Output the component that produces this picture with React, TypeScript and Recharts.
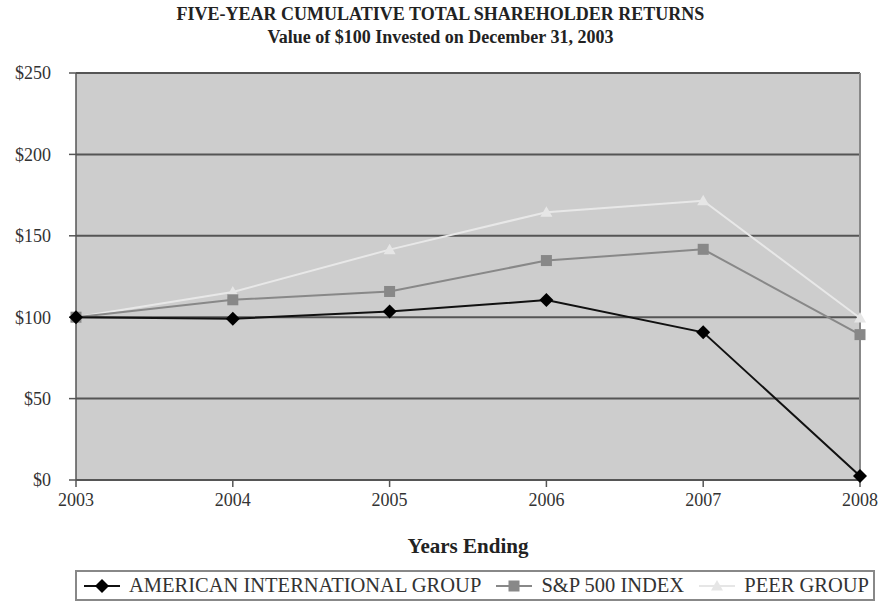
import React from "react";
import {
  LineChart,
  Line,
  XAxis,
  YAxis,
  CartesianGrid,
  ReferenceLine,
} from "recharts";

const years = ["2003", "2004", "2005", "2006", "2007", "2008"];
const aig = [100, 99, 103.5, 110.5, 90.7, 2.5];
const sp500 = [100, 110.7, 115.8, 134.8, 141.7, 89.3];
const peer = [100, 115.5, 141.5, 164.5, 171.5, 99.5];
const yTicks = [0, 50, 100, 150, 200, 250];

const data = years.map((year, i) => ({
  year,
  aig: aig[i],
  sp500: sp500[i],
  peer: peer[i],
}));

const FONT = '"Liberation Serif", "Times New Roman", serif';

function Diamond(props: any) {
  const { cx, cy } = props;
  if (cx == null || cy == null) return null;
  const r = 7;
  return (
    <path
      d={`M${cx},${cy - r} L${cx + r},${cy} L${cx},${cy + r} L${cx - r},${cy} Z`}
      fill="#000"
    />
  );
}

function Square(props: any) {
  const { cx, cy } = props;
  if (cx == null || cy == null) return null;
  const s = 5.5;
  return <rect x={cx - s} y={cy - s} width={s * 2} height={s * 2} fill="#888" />;
}

function Triangle(props: any) {
  const { cx, cy } = props;
  if (cx == null || cy == null) return null;
  const r = 6;
  return (
    <path
      d={`M${cx},${cy - r} L${cx + r},${cy + r * 0.75} L${cx - r},${cy + r * 0.75} Z`}
      fill="#e6e6e6"
    />
  );
}

function LegendIcon({ color, shape }: { color: string; shape: string }) {
  return (
    <svg width={38} height={16} style={{ display: "block" }}>
      <line x1={1} y1={8} x2={37} y2={8} stroke={color} strokeWidth={2} />
      {shape === "diamond" && <Diamond cx={19} cy={8} />}
      {shape === "square" && <Square cx={19} cy={8} />}
      {shape === "triangle" && <Triangle cx={19} cy={8} />}
    </svg>
  );
}

const legendItems = [
  { label: "AMERICAN INTERNATIONAL GROUP", color: "#111", shape: "diamond" },
  { label: "S&P 500 INDEX", color: "#888", shape: "square" },
  { label: "PEER GROUP", color: "#e6e6e6", shape: "triangle" },
];

export default function App() {
  return (
    <div
      style={{
        position: "absolute",
        left: 0,
        top: 0,
        width: 881,
        height: 607,
        background: "#fff",
        fontFamily: FONT,
        color: "#222",
      }}
    >
      <div
        style={{
          position: "absolute",
          top: 3,
          left: 0,
          width: 881,
          textAlign: "center",
          fontWeight: "bold",
          fontSize: 18,
          lineHeight: "23px",
        }}
      >
        <div>FIVE-YEAR CUMULATIVE TOTAL SHAREHOLDER RETURNS</div>
        <div>Value of $100 Invested on December 31, 2003</div>
      </div>

      <LineChart
        width={881}
        height={607}
        data={data}
        margin={{ top: 73, right: 21, left: 16, bottom: 97 }}
      >
        <CartesianGrid
          vertical={false}
          fill="#cdcdcd"
          stroke="#555"
          strokeWidth={2}
          fillOpacity={1}
        />
        <XAxis
          dataKey="year"
          height={30}
          tick={{ fill: "#333", fontSize: 18, fontFamily: FONT }}
          tickSize={7}
          tickMargin={6}
          axisLine={{ stroke: "#555", strokeWidth: 2 }}
          tickLine={{ stroke: "#555", strokeWidth: 1.5 }}
        />
        <YAxis
          width={60}
          domain={[0, 250]}
          ticks={yTicks}
          tickFormatter={(v: number) => `$${v}`}
          tick={{ fill: "#333", fontSize: 18, fontFamily: FONT }}
          tickSize={7}
          tickMargin={18}
          axisLine={{ stroke: "#555", strokeWidth: 1.5 }}
          tickLine={{ stroke: "#555", strokeWidth: 1.5 }}
        />
        <ReferenceLine x="2008" stroke="#888" strokeWidth={2} />
        <Line
          dataKey="peer"
          stroke="#e8e8e8"
          strokeWidth={2}
          dot={<Triangle />}
          isAnimationActive={false}
        />
        <Line
          dataKey="sp500"
          stroke="#888"
          strokeWidth={2}
          dot={<Square />}
          isAnimationActive={false}
        />
        <Line
          dataKey="aig"
          stroke="#111"
          strokeWidth={2}
          dot={<Diamond />}
          isAnimationActive={false}
        />
      </LineChart>

      <div
        style={{
          position: "absolute",
          top: 534,
          left: 76,
          width: 784,
          textAlign: "center",
          fontWeight: "bold",
          fontSize: 21,
        }}
      >
        Years Ending
      </div>

      <div
        style={{
          position: "absolute",
          top: 570,
          left: 75,
          width: 800,
          height: 31,
          boxSizing: "border-box",
          border: "2px solid #888",
          display: "flex",
          alignItems: "center",
          justifyContent: "space-between",
          padding: "0 4px 0 6px",
          fontSize: 20.5,
          color: "#333",
          whiteSpace: "nowrap",
        }}
      >
        {legendItems.map((item) => (
          <div key={item.label} style={{ display: "flex", alignItems: "center", gap: 8 }}>
            <LegendIcon color={item.color} shape={item.shape} />
            <span>{item.label}</span>
          </div>
        ))}
      </div>
    </div>
  );
}
